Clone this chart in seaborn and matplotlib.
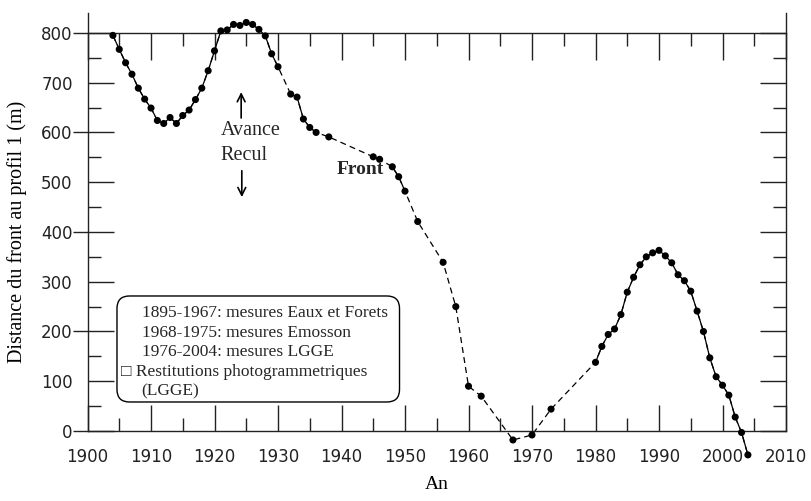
import matplotlib
matplotlib.use("Agg")
import matplotlib.pyplot as plt
import pandas as pd
import seaborn as sns
from matplotlib.patches import FancyBboxPatch

# ---- data ----
years = [1904, 1905, 1906, 1907, 1908, 1909, 1910, 1911, 1912, 1913, 1914, 1915,
         1916, 1917, 1918, 1919, 1920, 1921, 1922, 1923, 1924, 1925, 1926, 1927,
         1928, 1929, 1930, 1932, 1933, 1934, 1935, 1936, 1938, 1945, 1946, 1948,
         1949, 1950, 1952, 1956, 1958, 1960, 1962, 1967, 1970, 1973, 1980, 1981,
         1982, 1983, 1984, 1985, 1986, 1987, 1988, 1989, 1990, 1991, 1992, 1993,
         1994, 1995, 1996, 1997, 1998, 1999, 2000, 2001, 2002, 2003, 2004]
distance = [795, 767, 740, 717, 689, 667, 649, 624, 618, 630, 618, 634,
            645, 666, 689, 724, 764, 804, 806, 817, 815, 821, 817, 807,
            794, 758, 732, 677, 671, 627, 610, 600, 591, 551, 546, 531,
            511, 482, 421, 339, 250, 90, 70, -18, -8, 44, 138, 170,
            194, 205, 234, 279, 309, 334, 350, 358, 363, 352, 338, 314,
            302, 281, 241, 200, 147, 109, 92, 72, 28, -3, -48]
x_ticks = list(range(1900, 2011, 10))
x_minor = list(range(1905, 2010, 10))
y_ticks = list(range(0, 801, 100))
y_minor = list(range(50, 800, 100))
y_out_ticks = [0, 200, 400, 600, 800]
legend_lines = ["1895-1967: mesures Eaux et Forets",
                "1968-1975: mesures Emosson",
                "1976-2004: mesures LGGE",
                "\u25a1 Restitutions photogrammetriques",
                "(LGGE)"]

sns.set_style("white")
plt.rcParams["font.family"] = ["DejaVu Sans"]
plt.rcParams["lines.dashed_pattern"] = (4.8, 3.3)

fig, ax = plt.subplots(figsize=(8.11, 5.01), dpi=100)
fig.subplots_adjust(left=87.5 / 811, right=786 / 811, bottom=70 / 501, top=488 / 501)

df = pd.DataFrame({"An": years, "Distance": distance})
df["run"] = (df["An"].diff() > 1).cumsum()

# dashed line through every point (gaps between measurements)
sns.lineplot(data=df, x="An", y="Distance", color="black", linewidth=0.9,
             linestyle="--", estimator=None, sort=False, ax=ax, clip_on=False)
# solid line through yearly measurement runs
for _, g in df.groupby("run"):
    if len(g) > 1:
        sns.lineplot(data=g, x="An", y="Distance", color="black", linewidth=0.9,
                     estimator=None, sort=False, ax=ax, clip_on=False)
sns.scatterplot(data=df, x="An", y="Distance", color="black", s=26,
                edgecolor="none", ax=ax, clip_on=False, zorder=4)

ax.set_xlim(1900, 2010)
ax.set_ylim(0, 840)
ax.set_xticks(x_ticks)
ax.set_xticks(x_minor, minor=True)
ax.set_yticks(y_ticks)
ax.set_yticks(y_minor, minor=True)

spine_col = "#222222"
for s in ["left", "right", "bottom"]:
    ax.spines[s].set_visible(True)
    ax.spines[s].set_color(spine_col)
    ax.spines[s].set_linewidth(1.0)
ax.spines["top"].set_visible(False)

ax.tick_params(axis="x", which="major", direction="in", length=18.5, width=1.0,
               color=spine_col, labelsize=12, labelcolor="#222222", pad=12,
               bottom=True, top=False)
ax.tick_params(axis="x", which="minor", direction="in", length=9.3, width=1.0,
               color=spine_col, bottom=True, top=False)
ax.tick_params(axis="y", which="major", direction="in", length=18.5, width=1.0,
               color=spine_col, labelsize=12, labelcolor="#222222", pad=10.7,
               left=True, right=True)
ax.tick_params(axis="y", which="minor", direction="in", length=9.3, width=1.0,
               color=spine_col, left=True, right=True)

# horizontal reference line at 800 m with downward ticks
top = ax.secondary_xaxis(800 / 840)
top.set_xticks(x_ticks)
top.set_xticks(x_minor, minor=True)
top.tick_params(which="major", direction="in", length=19.5, width=1.0, color=spine_col,
                labeltop=False, labelbottom=False)
top.tick_params(which="minor", direction="in", length=9.6, width=1.0, color=spine_col,
                labeltop=False, labelbottom=False)
for s in top.spines.values():
    s.set_color(spine_col)
    s.set_linewidth(1.0)

# small outward ticks on the left axis
left_out = ax.secondary_yaxis("left")
left_out.set_yticks(y_out_ticks)
left_out.tick_params(direction="out", length=10.8, width=1.0, color=spine_col,
                     labelleft=False)
left_out.spines["left"].set_visible(False)
left_out.yaxis.set_minor_locator(matplotlib.ticker.NullLocator())

serif = ["Liberation Serif", "DejaVu Serif"]
ax.set_xlabel("An", fontfamily=serif, fontsize=14, color="black")
ax.set_ylabel("Distance du front au profil 1 (m)", fontfamily=serif, fontsize=14.5,
              color="black")
ax.xaxis.set_label_coords(0.5, -0.108)
ax.yaxis.set_label_coords(-0.087, 0.476)

# annotations
ax.text(1921.0, 603, "Avance", fontfamily=serif, fontsize=14.5, ha="left", va="center")
ax.text(1921.0, 553, "Recul", fontfamily=serif, fontsize=14.5, ha="left", va="center")
ax.annotate("", xy=(1924.2, 681), xytext=(1924.2, 629),
            arrowprops=dict(arrowstyle="->", color="black", lw=1.2,
                            mutation_scale=14, shrinkA=0, shrinkB=0))
ax.annotate("", xy=(1924.3, 470), xytext=(1924.3, 523),
            arrowprops=dict(arrowstyle="->", color="black", lw=1.2,
                            mutation_scale=14, shrinkA=0, shrinkB=0))
ax.text(1939.2, 525, "Front", fontfamily=serif, fontsize=14, fontweight="bold",
        ha="left", va="center")

# legend-like box
box = FancyBboxPatch((0.0422, 0.0694), 0.4045, 0.2536,
                     boxstyle="round,pad=0,rounding_size=0.018",
                     mutation_aspect=1.67, transform=ax.transAxes,
                     facecolor="none", edgecolor="black", linewidth=1.0, zorder=5)
ax.add_patch(box)
line_y = [0.2823, 0.2344, 0.1890, 0.1411, 0.0957]
line_x = [0.0776, 0.0776, 0.0776, 0.0480, 0.0776]
for txt, lx, ly in zip(legend_lines, line_x, line_y):
    ax.text(lx, ly, txt, transform=ax.transAxes, fontfamily=["Liberation Serif", "DejaVu Sans"],
            fontsize=12.5, ha="left", va="center", zorder=6)

fig.savefig("out.png", dpi=100)
